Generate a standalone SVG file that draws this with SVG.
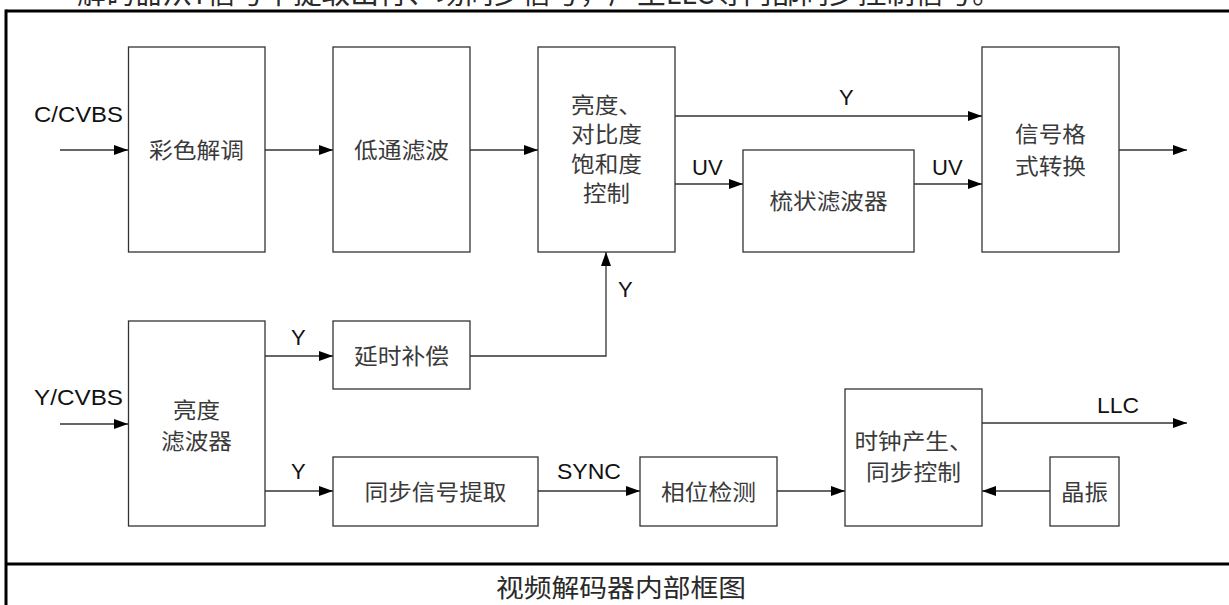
<svg xmlns="http://www.w3.org/2000/svg" width="1229" height="605" viewBox="0 0 1229 605">
  <style>
    .box { fill: #ffffff; stroke: #333333; stroke-width: 1.3; }
    .frame { stroke: #000000; stroke-width: 3; fill: none; }
    .wire { stroke: #333333; stroke-width: 1.3; fill: none; }
    .cn { font-family: "Noto Sans CJK SC", "Liberation Sans", sans-serif; font-size: 22px; fill: #3a3a3a; text-anchor: middle; }
    .lat { font-family: "Liberation Sans", Arial, sans-serif; font-size: 22px; fill: #111111; }
    .cap { font-family: "Noto Sans CJK SC", "Liberation Sans", sans-serif; font-size: 25px; fill: #2a2a2a; text-anchor: middle; }
    .top { font-family: "Noto Sans CJK SC", "Liberation Sans", sans-serif; font-size: 29px; fill: #2a2a2a; }
  </style>
  <defs>
    <marker id="arr" markerUnits="userSpaceOnUse" markerWidth="14" markerHeight="10" refX="14" refY="5" orient="auto">
      <path d="M0,0 L14,5 L0,10 Z" fill="#000000"/>
    </marker>
  </defs>
  <rect x="0" y="0" width="1229" height="605" fill="#ffffff"/>

  <text class="top" x="77" y="4" textLength="924" lengthAdjust="spacingAndGlyphs">解码器从Y信号中提取出行、场同步信号，产生LLC等内部同步控制信号。</text>

  <g id="frame">
    <line class="frame" x1="6" y1="11" x2="1229" y2="11"/>
    <line class="frame" x1="6" y1="9.5" x2="6" y2="605"/>
    <line class="frame" x1="6" y1="564" x2="1229" y2="564"/>
    <text class="cap" x="621" y="597" textLength="250" lengthAdjust="spacingAndGlyphs">视频解码器内部框图</text>
  </g>

  <g id="connectors">
    <line class="wire" x1="60" y1="150" x2="128" y2="150" marker-end="url(#arr)"/>
    <line class="wire" x1="265" y1="150" x2="333" y2="150" marker-end="url(#arr)"/>
    <line class="wire" x1="470" y1="150" x2="538" y2="150" marker-end="url(#arr)"/>
    <line class="wire" x1="675" y1="116" x2="982" y2="116" marker-end="url(#arr)"/>
    <line class="wire" x1="675" y1="184" x2="743" y2="184" marker-end="url(#arr)"/>
    <line class="wire" x1="914" y1="184" x2="982" y2="184" marker-end="url(#arr)"/>
    <line class="wire" x1="1119" y1="150" x2="1187" y2="150" marker-end="url(#arr)"/>
    <line class="wire" x1="60" y1="424" x2="128" y2="424" marker-end="url(#arr)"/>
    <line class="wire" x1="265" y1="356" x2="333" y2="356" marker-end="url(#arr)"/>
    <polyline class="wire" points="470,356 606,356 606,252" marker-end="url(#arr)"/>
    <line class="wire" x1="265" y1="491" x2="333" y2="491" marker-end="url(#arr)"/>
    <line class="wire" x1="538" y1="491" x2="640" y2="491" marker-end="url(#arr)"/>
    <line class="wire" x1="777" y1="491" x2="845" y2="491" marker-end="url(#arr)"/>
    <line class="wire" x1="1050" y1="491" x2="982" y2="491" marker-end="url(#arr)"/>
    <line class="wire" x1="982" y1="423" x2="1187" y2="423" marker-end="url(#arr)"/>

    <text class="lat" x="34" y="122" textLength="89" lengthAdjust="spacingAndGlyphs">C/CVBS</text>
    <text class="lat" x="34" y="405" textLength="89" lengthAdjust="spacingAndGlyphs">Y/CVBS</text>
    <text class="lat" x="839" y="105">Y</text>
    <text class="lat" x="692" y="175">UV</text>
    <text class="lat" x="932" y="175">UV</text>
    <text class="lat" x="618" y="297">Y</text>
    <text class="lat" x="291" y="345">Y</text>
    <text class="lat" x="291" y="479">Y</text>
    <text class="lat" x="557" y="479" textLength="64" lengthAdjust="spacingAndGlyphs">SYNC</text>
    <text class="lat" x="1097" y="413" textLength="42" lengthAdjust="spacingAndGlyphs">LLC</text>
  </g>

  <g id="n-demod">
    <rect class="box" x="128.5" y="47" width="136.5" height="205"/>
    <text class="cn" x="196.5" y="158" textLength="95" lengthAdjust="spacingAndGlyphs">彩色解调</text>
  </g>
  <g id="n-lowpass">
    <rect class="box" x="333" y="47" width="137" height="205"/>
    <text class="cn" x="401.5" y="158" textLength="95" lengthAdjust="spacingAndGlyphs">低通滤波</text>
  </g>
  <g id="n-bcs">
    <rect class="box" x="538" y="47" width="137" height="205"/>
    <text class="cn" x="606.5" y="113" textLength="71" lengthAdjust="spacingAndGlyphs">亮度、</text>
    <text class="cn" x="606.5" y="142" textLength="71" lengthAdjust="spacingAndGlyphs">对比度</text>
    <text class="cn" x="606.5" y="172" textLength="71" lengthAdjust="spacingAndGlyphs">饱和度</text>
    <text class="cn" x="606.5" y="201" textLength="47" lengthAdjust="spacingAndGlyphs">控制</text>
  </g>
  <g id="n-comb">
    <rect class="box" x="743" y="150" width="171" height="102"/>
    <text class="cn" x="828.5" y="209" textLength="118" lengthAdjust="spacingAndGlyphs">梳状滤波器</text>
  </g>
  <g id="n-format">
    <rect class="box" x="982" y="47" width="137" height="205"/>
    <text class="cn" x="1050.5" y="142" textLength="71" lengthAdjust="spacingAndGlyphs">信号格</text>
    <text class="cn" x="1050.5" y="174" textLength="71" lengthAdjust="spacingAndGlyphs">式转换</text>
  </g>
  <g id="n-lumafilter">
    <rect class="box" x="128.5" y="321" width="136.5" height="205"/>
    <text class="cn" x="196.5" y="418" textLength="47" lengthAdjust="spacingAndGlyphs">亮度</text>
    <text class="cn" x="196.5" y="449" textLength="71" lengthAdjust="spacingAndGlyphs">滤波器</text>
  </g>
  <g id="n-delay">
    <rect class="box" x="333" y="321" width="137" height="68"/>
    <text class="cn" x="401.5" y="364" textLength="95" lengthAdjust="spacingAndGlyphs">延时补偿</text>
  </g>
  <g id="n-sync">
    <rect class="box" x="333" y="457" width="205" height="69"/>
    <text class="cn" x="435.5" y="500" textLength="142" lengthAdjust="spacingAndGlyphs">同步信号提取</text>
  </g>
  <g id="n-phase">
    <rect class="box" x="640" y="457" width="137" height="69"/>
    <text class="cn" x="708.5" y="500" textLength="95" lengthAdjust="spacingAndGlyphs">相位检测</text>
  </g>
  <g id="n-clock">
    <rect class="box" x="845" y="389" width="137" height="137"/>
    <text class="cn" x="913.5" y="449" textLength="118" lengthAdjust="spacingAndGlyphs">时钟产生、</text>
    <text class="cn" x="913.5" y="480" textLength="95" lengthAdjust="spacingAndGlyphs">同步控制</text>
  </g>
  <g id="n-xtal">
    <rect class="box" x="1050" y="457" width="69" height="69"/>
    <text class="cn" x="1084.5" y="500" textLength="47" lengthAdjust="spacingAndGlyphs">晶振</text>
  </g>
</svg>
